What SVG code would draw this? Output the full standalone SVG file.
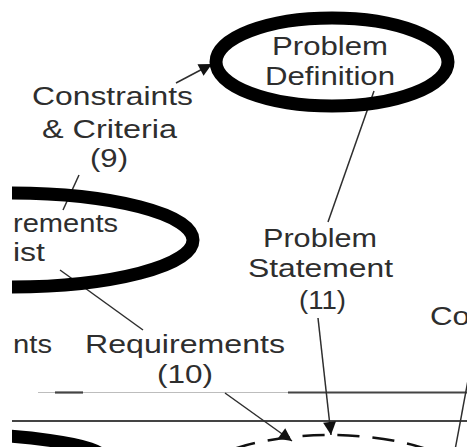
<svg xmlns="http://www.w3.org/2000/svg" width="467" height="447" viewBox="0 0 467 447">
  <defs>
    <style>
      .lbl { font-family: "Liberation Sans", Arial, sans-serif; font-size: 26px; fill: #2e2e2e; }
      .node { fill: none; stroke: #000; stroke-width: 13; }
      .conn { fill: none; stroke: #2e2e2e; stroke-width: 1.5; }
      .rule { fill: none; stroke: #444; stroke-width: 2.2; }
      .rule-light { fill: none; stroke: #bdbdbd; stroke-width: 1.2; }
    </style>
    <marker id="head" viewBox="0 0 10 10" refX="10" refY="5" markerWidth="15" markerHeight="13" markerUnits="userSpaceOnUse" orient="auto">
      <path d="M0,0 L10,5 L0,10 z" fill="#111"/>
    </marker>
    <clipPath id="frame">
      <rect x="12" y="0" width="455" height="447"/>
    </clipPath>
  </defs>

  <rect x="0" y="0" width="467" height="447" fill="#fff"/>

  <g clip-path="url(#frame)">
    <!-- horizontal rules -->
    <g id="rules">
      <line class="rule-light" x1="38" y1="392.5" x2="290" y2="392.5"/>
      <line class="rule" x1="55" y1="392.5" x2="83" y2="392.5"/>
      <line class="rule" x1="288" y1="392.5" x2="467" y2="392.5"/>
      <line class="rule" x1="12" y1="421" x2="467" y2="421" stroke-width="2.6"/>
    </g>

    <!-- connectors -->
    <g id="connectors">
      <line class="conn" x1="176" y1="83" x2="212" y2="64" marker-end="url(#head)"/>
      <line class="conn" x1="79" y1="175" x2="63" y2="210"/>
      <line class="conn" x1="60" y1="270" x2="143" y2="330"/>
      <line class="conn" x1="374" y1="91" x2="328" y2="222"/>
      <line class="conn" x1="318" y1="318" x2="331" y2="435" marker-end="url(#head)"/>
      <line class="conn" x1="225" y1="393" x2="292" y2="441" marker-end="url(#head)"/>
      <line class="conn" x1="469" y1="375" x2="455" y2="450"/>
    </g>

    <!-- Problem Definition -->
    <g id="problem-definition">
      <ellipse class="node" cx="332" cy="62" rx="116" ry="44"/>
      <text class="lbl" x="272" y="55" textLength="116" lengthAdjust="spacingAndGlyphs">Problem</text>
      <text class="lbl" x="265" y="85" textLength="130" lengthAdjust="spacingAndGlyphs">Definition</text>
    </g>

    <!-- Requirements List -->
    <g id="requirements-list">
      <ellipse class="node" cx="10" cy="240" rx="183" ry="47"/>
      <text class="lbl" x="13" y="232" textLength="105" lengthAdjust="spacingAndGlyphs">rements</text>
      <text class="lbl" x="13" y="261" textLength="32" lengthAdjust="spacingAndGlyphs">ist</text>
    </g>

    <!-- lower left node -->
    <g id="lower-left-node">
      <ellipse class="node" cx="-80" cy="458" rx="183" ry="25" stroke-width="16"/>
    </g>

    <!-- lower dashed node -->
    <g id="lower-dashed-node">
      <ellipse cx="330" cy="495" rx="150" ry="60" fill="none" stroke="#111" stroke-width="2.5" stroke-dasharray="22 13"/>
    </g>

    <!-- edge labels -->
    <g id="label-constraints">
      <text class="lbl" x="32" y="105" textLength="161" lengthAdjust="spacingAndGlyphs">Constraints</text>
      <text class="lbl" x="42" y="138" textLength="135" lengthAdjust="spacingAndGlyphs">&amp; Criteria</text>
      <text class="lbl" x="90" y="167" textLength="38" lengthAdjust="spacingAndGlyphs">(9)</text>
    </g>
    <g id="label-statement">
      <text class="lbl" x="263" y="247" textLength="114" lengthAdjust="spacingAndGlyphs">Problem</text>
      <text class="lbl" x="248" y="277" textLength="145" lengthAdjust="spacingAndGlyphs">Statement</text>
      <text class="lbl" x="299" y="309" textLength="47" lengthAdjust="spacingAndGlyphs">(11)</text>
    </g>
    <g id="label-requirements">
      <text class="lbl" x="85" y="353" textLength="200" lengthAdjust="spacingAndGlyphs">Requirements</text>
      <text class="lbl" x="157" y="383" textLength="56" lengthAdjust="spacingAndGlyphs">(10)</text>
    </g>
    <g id="label-left">
      <text class="lbl" x="13" y="353" textLength="39" lengthAdjust="spacingAndGlyphs">nts</text>
    </g>
    <g id="label-right">
      <text class="lbl" x="430" y="325" textLength="40" lengthAdjust="spacingAndGlyphs">Co</text>
    </g>
  </g>
</svg>
